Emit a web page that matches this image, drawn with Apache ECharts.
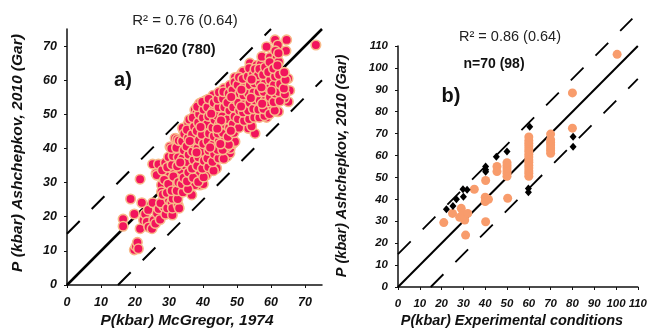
<!DOCTYPE html>
<html>
<head>
<meta charset="utf-8">
<script src="https://cdn.jsdelivr.net/npm/echarts@6/dist/echarts.min.js"></script>
<style>
html,body{margin:0;padding:0;background:#fff;}
#c{width:650px;height:329px;}
</style>
</head>
<body>
<div id="c"></div>
<script>
// ---- Panel a) : P(kbar) McGregor 1974 (x) vs Ashchepkov 2010 Gar (y)
const mcgregorVsAsh = [
[16.5,19.3],[16.5,17.2],[18.7,25.2],[19.8,20.8],[19.8,10.3],[20.3,11.3],[20.7,12.5],[21,10.6],[21.5,31],[22,24.1],
[21.5,16.5],[22.5,19],[23,20.8],[23.5,18.5],[24,17],[25,16.5],[23.9,22],[25.2,24.1],[25.5,19],[26,18],
[26.5,21],[27,22.3],[27.4,19.2],[28,24.5],[28.5,23],[27.5,24],[29,20.7],[29.5,22.5],[30,25],[30.8,24.2],
[31,20.5],[31,22.5],[32.7,23.4],[33,22.5],[25.2,35.4],[26.9,35.4],[26.2,32.7],[26.4,32.2],[27.8,29.3],[27.8,27.3],
[29.8,32.2],[31.3,29.3],[30.8,34.2],[33.2,32.7],[33.5,33.7],[34.7,35.1],[36.7,26.4],[36.7,31.7],[39.1,32.7],[41,32.2],
[39.1,29.3],[40.1,29.6],[37.6,29.3],[43,35.6],[44,34.2],
[30.3,40.5],[31.8,43],[32.4,42.7],[34.2,45.4],[34,46],[35.7,47.4],[36,48.5],[37.6,51.3],[38.1,50.3],[39,53.2],
[41,54.2],[43,55.6],[46.2,57.6],[49.4,60.8],[51.4,62],[51.8,62.5],[53.8,65],[55.8,64.4],[57,64.6],[57.3,66.9],
[58.7,69.8],[59.7,66.7],[60.2,64.4],[61.2,71.8],[61.7,66.7],[62,70.3],[62.3,65.4],[64.4,68.6],[64.6,71.8],[73.2,70.3],
[47,37.6],[47.9,38.6],[48,40],[48.9,41.5],[49.4,42],[47,45.4],[47,40.5],[53.3,45.9],[55.3,44.4],[54.3,46.5],
[58.7,49.1],[59.2,51.7],[61.8,50.8],[62.2,50.8],[65.1,53.7],[64,54.7],[63.4,59],[63.1,61.5],[65.5,57],[65,60.5],
[28.2,26.5],[28.6,30.8],[28,33.6],[28.9,35.8],
[29.4,27],[29.8,29.6],[29.5,34.5],[29.9,37.5],
[31.1,25.3],[30.8,27.6],[31.3,31.8],[30.9,35.2],[31.2,37.8],[30.7,40],
[32.6,25.2],[32.3,27.6],[32.8,30.1],[32.4,34.8],[32.7,37.4],[32.2,40.2],[32.9,42.3],
[34.1,27.2],[33.8,29.6],[34.3,31.4],[34,37.1],[34.4,39.5],[33.9,42.1],[34.5,44.3],
[35.6,28.1],[35.3,30.4],[35.7,33],[35.4,36],[35.8,38.2],[35.2,40.6],[35.6,43],[35.3,45.5],
[37.1,31.4],[36.8,34.1],[37.3,36.6],[36.9,39.1],[37.2,41.6],[36.8,44.1],[37.4,46.4],[37,49],
[38.6,30.2],[38.3,34.9],[38.7,37.4],[38.4,40.1],[38.8,42.4],[38.2,45.1],[38.6,47.6],[38.9,50.1],[38.3,52.2],
[40.2,31.6],[39.8,34.1],[40.3,36.4],[39.9,39.1],[40.1,41.4],[39.7,44.1],[40.4,46.6],[40,49],[40.2,51.4],[39.8,53.6],
[41.6,34.6],[41.3,37.1],[41.7,39.4],[41.4,42.1],[41.8,44.4],[41.2,47.1],[41.6,49.4],[41.3,52.1],[41.7,54.5],
[43.1,33.5],[42.8,36.1],[43.3,38.4],[42.9,41.1],[43.2,43.6],[42.8,46.1],[43.4,48.4],[43,51.1],[43.2,53.4],
[44.6,37.1],[44.3,39.6],[44.7,42.1],[44.4,44.4],[44.8,47.1],[44.2,49.6],[44.6,52.1],[44.3,54.4],[44.7,56.5],
[46.1,37],[45.8,39.6],[46.3,42.1],[45.9,44.6],[46.2,47.1],[45.7,49.4],[46.3,52.1],[45.9,54.6],[46,56.6],
[47.6,41.1],[47.3,43.4],[47.7,46.1],[47.4,48.6],[47.8,51.1],[47.2,53.4],[47.6,56.1],[47.9,58.5],
[49.1,44.6],[48.8,47.1],[49.3,49.4],[48.9,52.1],[49.2,54.6],[48.7,57.1],[49.3,59.4],
[50.6,46.1],[50.3,48.6],[50.7,51.1],[50.4,53.4],[50.8,56.1],[50.2,58.6],[50.6,60.9],
[52.1,48.1],[51.8,50.6],[52.3,53.1],[51.9,55.6],[52.2,58.1],[51.7,60.4],
[53.6,48.6],[53.3,51.1],[53.7,53.4],[53.4,56.1],[53.8,58.6],[53.2,61.1],[53.6,63.5],
[55.1,49.1],[54.8,51.6],[55.3,54.1],[54.9,56.4],[55.2,59.1],[54.7,61.6],[55.3,63.2],
[56.6,49.1],[56.3,51.4],[56.7,54.1],[56.4,56.6],[56.8,59.1],[56.2,61.4],[56.6,63.3],
[58.1,49.6],[57.8,51.6],[58.3,54.1],[57.9,56.6],[58.2,59.1],[57.7,61.6],[58.3,63.8],
[59.6,50.1],[59.3,53.6],[59.7,55.1],[59.4,57.6],[59.8,60.1],[59.2,62.4],[59.6,65.3],
[61.1,51.1],[60.8,53.6],[61.3,56.1],[60.9,58.6],[61.2,61.1],[60.7,63.4],[61.3,68.6],
[62.6,53.9],[62.3,56.6],[62.7,58.9],[62.4,61.6],[61.9,64.3],[62.2,67.9],
[64.1,55.9],[63.8,57.6],[64.3,60.1],[63.9,62.3],
[36.1,42.2],[39.3,46.3],[42.4,50.2],[45.3,48.2],[48.3,55.1],[51.2,52.3],[54.1,54.8],[57.2,57.9],[60.1,56.9],[42.1,40.3],
[38.1,38.8],[45.1,41.3],[51.3,57.2],[54.3,60.2],[33.3,35.9],[48.2,45.2],[57.4,53.1],[44.2,45.8]
];
const leftOneToOne = [[0,0],[75,75]];
const leftUpper = [[0,15],[60,75]];
const leftLower = [[15,0],[75,60]];

// ---- Panel b) : P(kbar) experimental conditions (x) vs Ashchepkov 2010 Gar (y)
const expOrange = [
[21,29.4],[25,33.6],[28.3,31.8],[29,35.9],[29.8,33.6],[30.6,30.6],[30,32.5],[32,33.6],[31,23.7],[35,44.6],
[40.2,48.6],[40,41],[40.5,40],[40,39],[41.5,40],[40.2,29.8],[45.4,55],[45.4,52.7],
[50,50.5],[50,51.8],[50,53],[50,54.3],[50,55.5],[50,56.7],[50.3,40.5],
[60,50.5],[60,51.8],[60,53],[60,54.3],[60,55.5],[60,56.8],[60,58],[60,59.3],[60,60.5],[60,61.8],[60,63],[60,64.3],[60,65.5],[60,66.8],[60,68.5],
[70,61],[70,62.3],[70,63.5],[70,64.8],[70,66],[70,67.2],[70,69.8],
[80,88.6],[80,72.5],[100.5,106.2]
];
const expBlack = [
[22.2,35.5],[25.2,37],[26.8,40],[29.8,44.6],[30,41.2],[31.7,44.4],[40.2,55],[40.2,53.5],[40.2,52.6],[45.1,59.5],
[50,61.8],[60.4,73.2],[59.8,45],[59.8,43.2],[80.3,68.6],[80.3,64]
];
const rightOneToOne = [[0,0],[110,110]];
const rightUpper = [[0,15],[107.5,122.5]];
const rightLower = [[15,0],[110,95]];

const FONT = '"Liberation Sans", Arial, sans-serif';
const chart = echarts.init(document.getElementById('c'), null, {renderer:'canvas'});

function axisCommon(max, fs, margin, showMax){
  return {
    type:'value', min:0, max:max, interval:10,
    axisLine:{show:true, lineStyle:{color:'#111', width:1.5}},
    axisTick:{show:true, length:3, lineStyle:{color:'#111', width:1}},
    splitLine:{show:false},
    axisLabel:{fontFamily:FONT, fontWeight:'bold', fontStyle:'italic', fontSize:fs, color:'#111', margin:margin, showMaxLabel:showMax}
  };
}
function lineSeries(xi, data, dashed, width, clip){
  return {
    type:'line', xAxisIndex:xi, yAxisIndex:xi, data:data, symbol:'none', silent:true, z:1, clip:clip,
    lineStyle:{color:'#000', width:width, type: dashed ? [18,17] : 'solid'}
  };
}

const option = {
  animation:false,
  grid:[
    {left:67, top:29, width:255, height:256},
    {left:398, top:46, width:242, height:241}
  ],
  xAxis:[
    Object.assign(axisCommon(75,12.5,11,false),{gridIndex:0}),
    Object.assign(axisCommon(110,11.5,11,true),{gridIndex:1})
  ],
  yAxis:[
    Object.assign(axisCommon(75,12.5,10,false),{gridIndex:0}),
    Object.assign(axisCommon(110,11.5,10,true),{gridIndex:1})
  ],
  series:[
    lineSeries(0, leftOneToOne, false, 2.5, true),
    lineSeries(0, leftUpper, true, 2, true),
    lineSeries(0, leftLower, true, 2, true),
    {type:'scatter', xAxisIndex:0, yAxisIndex:0, data:mcgregorVsAsh, symbol:'circle', symbolSize:9.5, z:2,
     itemStyle:{color:'#F2145C', borderColor:'#F8BA8A', borderWidth:1.6, opacity:1}},
    lineSeries(1, rightOneToOne, false, 2, true),
    lineSeries(1, rightUpper, true, 1.8, false),
    lineSeries(1, rightLower, true, 1.8, true),
    {type:'scatter', xAxisIndex:1, yAxisIndex:1, data:expOrange, symbol:'circle', symbolSize:9, z:2,
     itemStyle:{color:'#F89C6C', opacity:1}},
    {type:'scatter', xAxisIndex:1, yAxisIndex:1, data:expBlack, symbol:'diamond', symbolSize:[7,8], z:3,
     itemStyle:{color:'#000', opacity:1}}
  ],
  graphic:[
    {type:'text', x:185, y:21, style:{text:'R² = 0.76 (0.64)', font:'15px '+FONT, fill:'#222', align:'center', verticalAlign:'middle'}},
    {type:'text', x:176, y:50, style:{text:'n=620 (780)', font:'bold 14.5px '+FONT, fill:'#111', align:'center', verticalAlign:'middle'}},
    {type:'text', x:123, y:80, style:{text:'a)', font:'bold 20px '+FONT, fill:'#111', align:'center', verticalAlign:'middle'}},
    {type:'text', x:510, y:37, style:{text:'R² = 0.86 (0.64)', font:'14.5px '+FONT, fill:'#222', align:'center', verticalAlign:'middle'}},
    {type:'text', x:494, y:64.5, style:{text:'n=70 (98)', font:'bold 14px '+FONT, fill:'#111', align:'center', verticalAlign:'middle'}},
    {type:'text', x:451, y:96, style:{text:'b)', font:'bold 20px '+FONT, fill:'#111', align:'center', verticalAlign:'middle'}},
    {type:'text', x:187, y:320.5, style:{text:'P(kbar) McGregor, 1974', font:'italic bold 15.5px '+FONT, fill:'#111', align:'center', verticalAlign:'middle'}},
    {type:'text', x:512, y:321, style:{text:'P(kbar) Experimental conditions', font:'italic bold 14.5px '+FONT, fill:'#111', align:'center', verticalAlign:'middle'}},
    {type:'text', x:18, y:153, rotation:Math.PI/2, style:{text:'P (kbar) Ashchepkov, 2010 (Gar)', font:'italic bold 15.5px '+FONT, fill:'#111', align:'center', verticalAlign:'middle'}},
    {type:'text', x:342, y:166, rotation:Math.PI/2, style:{text:'P (kbar) Ashchepkov, 2010 (Gar)', font:'italic bold 14.5px '+FONT, fill:'#111', align:'center', verticalAlign:'middle'}}
  ]
};
chart.setOption(option);
</script>
</body>
</html>
